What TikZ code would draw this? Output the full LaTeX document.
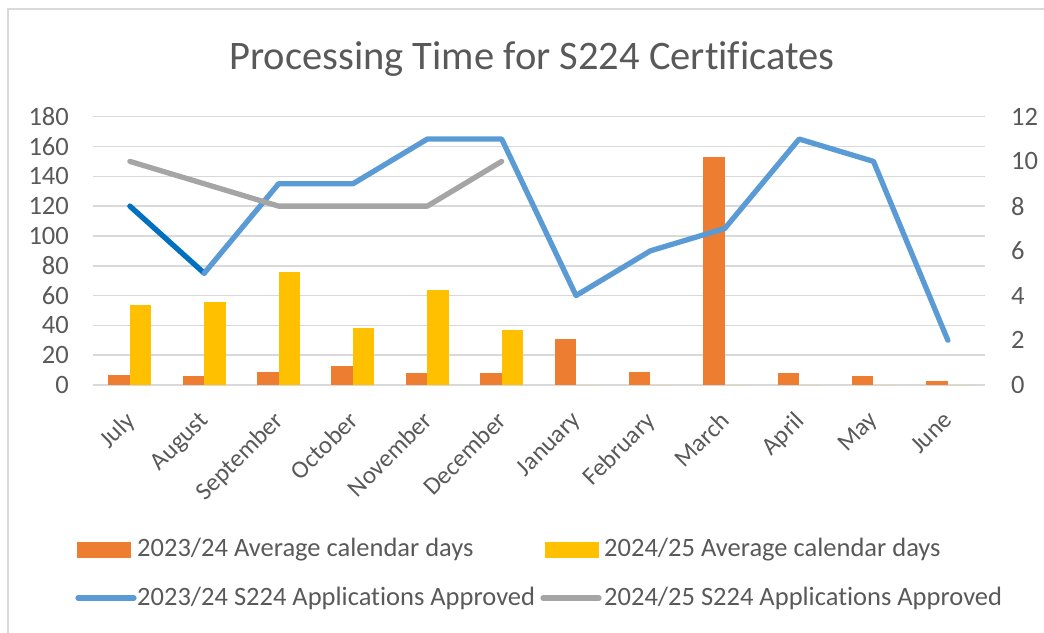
\documentclass[tikz,border=0pt]{standalone}
\usepackage{fontspec}
\setmainfont{Carlito}[Ligatures={NoCommon}]
\definecolor{serA}{HTML}{ED7D31}
\definecolor{serB}{HTML}{FFC000}
\definecolor{serC}{HTML}{5B9BD5}
\definecolor{serCdark}{HTML}{0070C0}
\definecolor{serD}{HTML}{A5A5A5}
\definecolor{gridcol}{HTML}{D9D9D9}
\definecolor{txtcol}{HTML}{595959}
\tikzset{
  gridline/.style={gridcol, line width=1.6pt},
  axlabel/.style={text=txtcol, font=\fontsize{26.5}{26.5}\selectfont, inner sep=0pt},
  monthlabel/.style={text=txtcol, font=\fontsize{25}{25}\selectfont, inner sep=0pt, rotate=45, anchor=north east},
  seriesline/.style={line width=5.3pt, line cap=round, line join=round},
  legendtext/.style={axlabel, anchor=west},
}
% plot geometry (pt): left 92.7, right 985, baseline 385, 180 -> 116.7
\def\pl{92.7}
\def\pr{985}
\def\cw{74.36}
\def\yb{385}
\def\ls{1.4906}  % left axis: pt per day
\def\rs{22.36}   % right axis: pt per application
\begin{document}
\begin{tikzpicture}[x=1pt, y=-1pt]
\useasboundingbox (0,0) rectangle (1044,632);

% chart frame
\draw[gridcol, line width=2pt] (8,640) -- (8,9) -- (1050,9);

% title
\node[text=txtcol, font=\fontsize{40.5}{40.5}\selectfont, inner sep=0pt, anchor=base] (title) at (532,69) {Processing Time for S224 Certificates};

% gridlines and left axis labels
\foreach \v in {0,20,...,180} {
  \draw[gridline] (\pl,{\yb-\v*\ls}) -- (\pr,{\yb-\v*\ls});
  \node[axlabel, anchor=east] (l\v) at (69,{\yb-\v*\ls}) {\v};
}
% right axis labels
\foreach \r in {0,2,...,12} {
  \node[axlabel, anchor=west] (r\r) at (1011,{\yb-\r*\rs}) {\r};
}

% columns: month index / 2023/24 days / 2024/25 days / month name
\foreach \i/\a/\b/\m in {1/7/54/July, 2/6/56/August, 3/9/76/September, 4/13/38/October,
    5/8/64/November, 6/8/37/December, 7/31/0/January, 8/9/0/February,
    9/153/0/March, 10/8/0/April, 11/6/0/May, 12/2.5/0/June} {
  \pgfmathsetmacro{\cx}{\pl+\cw*(\i-0.5)}
  \fill[serA] ({\cx-21.5},\yb) rectangle (\cx,{\yb-\a*\ls});
  \fill[serB] (\cx,\yb) rectangle ({\cx+21.5},{\yb-\b*\ls});
  \node[monthlabel] (m\i) at ({\cx-6},410) {\m};
}

% line series points (right axis)
\foreach \i/\n in {1/8,2/5,3/9,4/9,5/11,6/11,7/4,8/6,9/7,10/11,11/10,12/2} {
  \coordinate (c\i) at ({\pl+\cw*(\i-0.5)},{\yb-\n*\rs});
}
\foreach \i/\n in {1/10,2/9,3/8,4/8,5/8,6/10} {
  \coordinate (d\i) at ({\pl+\cw*(\i-0.5)},{\yb-\n*\rs});
}
\draw[seriesline, serCdark] (c1) -- (c2);
\draw[seriesline, serC] (c2) -- (c3) -- (c4) -- (c5) -- (c6) -- (c7) -- (c8)
  -- (c9) -- (c10) -- (c11) -- (c12);
\draw[seriesline, serD] (d1) -- (d2) -- (d3) -- (d4) -- (d5) -- (d6);

% legend
\fill[serA] (77,542) rectangle (131,558);
\node[legendtext] (lgA) at (137,550) {2023/24 Average calendar days};
\fill[serB] (545,542) rectangle (599,558);
\node[legendtext] (lgB) at (604,550) {2024/25 Average calendar days};
\coordinate (kC1) at (78,598);
\coordinate (kC2) at (134,598);
\draw[seriesline, serC] (kC1) -- (kC2);
\node[legendtext] (lgC) at (137,598) {2023/24 S224 Applications Approved};
\coordinate (kD1) at (543,598);
\coordinate (kD2) at (599,598);
\draw[seriesline, serD] (kD1) -- (kD2);
\node[legendtext] (lgD) at (604,598) {2024/25 S224 Applications Approved};
\end{tikzpicture}
\end{document}
